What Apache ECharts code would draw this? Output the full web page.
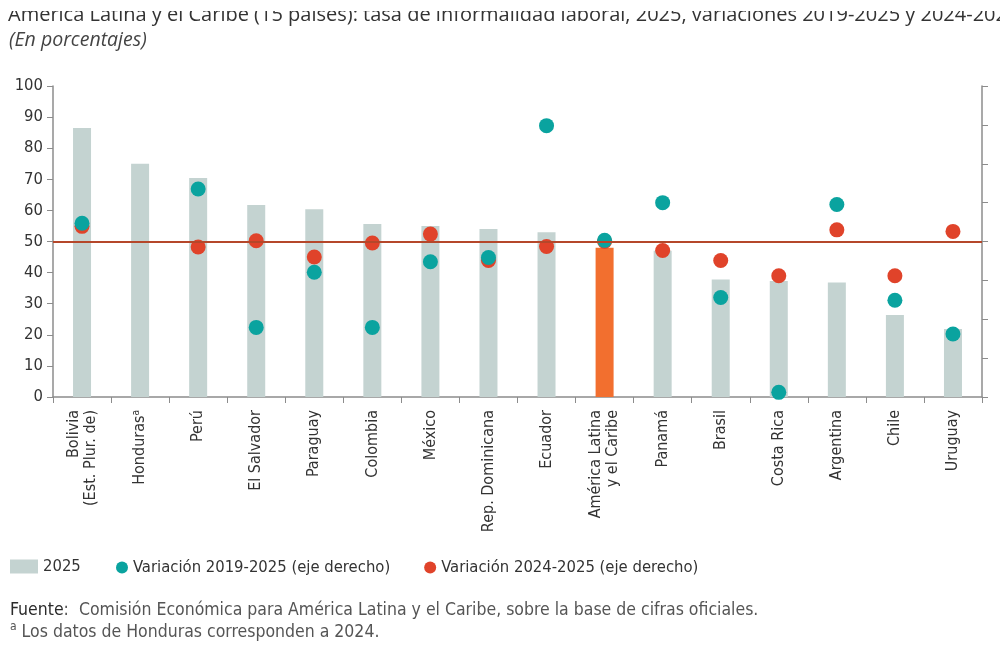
<!DOCTYPE html>
<html>
<head>
<meta charset="utf-8">
<script src="https://cdn.jsdelivr.net/npm/echarts@6/dist/echarts.min.js"></script>
<style>
html, body { margin: 0; padding: 0; background: #fff; }
#chart { width: 1000px; height: 653px; }
</style>
</head>
<body>
<div id="chart"></div>
<script>
// datos
var paises = ['Bolivia\n(Est. Plur. de)', 'Honduras', 'Perú', 'El Salvador', 'Paraguay', 'Colombia', 'México',
    'Rep. Dominicana', 'Ecuador', 'América Latina\ny el Caribe', 'Panamá', 'Brasil', 'Costa Rica', 'Argentina', 'Chile', 'Uruguay'];
var tasa2025 = [86.5, 75.0, 70.4, 61.7, 60.4, 55.6, 55.0, 54.0, 53.0, 48.0, 47.0, 37.8, 37.3, 36.8, 26.4, 21.9];
var var2019_2025 = [0.47, null, 1.35, -2.21, -0.79, -2.21, -0.52, -0.41, 2.98, 0.03, 1.0, -1.44, -3.88, 0.95, -1.51, -2.38];
var var2024_2025 = [0.39, null, -0.14, 0.02, -0.40, -0.04, 0.19, -0.49, -0.13, 0.0, -0.23, -0.49, -0.88, 0.30, -0.88, 0.26];
var ticksIzq = [0, 10, 20, 30, 40, 50, 60, 70, 80, 90, 100];

var fuente = "'Liberation Sans Narrow', 'DejaVu Sans Condensed', 'Roboto Condensed', sans-serif";
var gris = '#c4d3d1';
var naranja = '#f26f2f';
var teal = '#0aa39f';
var rojo = '#e0432a';
var ejeColor = '#8c8c8c';

var myChart = echarts.init(document.getElementById('chart'), null, { renderer: 'canvas' });

var barras = tasa2025.map(function (v, i) {
    if (paises[i].indexOf('América Latina') === 0) {
        return { value: v, itemStyle: { color: naranja } };
    }
    return v;
});

var option = {
    backgroundColor: '#fff',
    animation: false,
    textStyle: { fontFamily: fuente },
    graphic: [
        {
            type: 'text', left: 8, top: 5,
            style: {
                text: 'América Latina y el Caribe (15 países): tasa de informalidad laboral, 2025, variaciones 2019-2025 y 2024-2025',
                font: '20px "Open Sans", sans-serif', fill: '#333'
            }
        },
        // el titulo esta recortado arriba en la imagen
        { type: 'rect', shape: { x: 0, y: 0, width: 1000, height: 11 }, style: { fill: '#fff' }, z: 100 },
        {
            type: 'text', left: 9, top: 30,
            style: { text: '(En porcentajes)', font: 'italic 19.5px "Open Sans", sans-serif', fill: '#444' }
        },
        {
            type: 'text', left: 10, top: 599,
            style: {
                text: '{b|Fuente}:  Comisión Económica para América Latina y el Caribe, sobre la base de cifras oficiales.\n{s|a} Los datos de Honduras corresponden a 2024.',
                fontFamily: fuente, fontSize: 17.5, fill: '#555', lineHeight: 22,
                rich: {
                    b: { fontFamily: fuente, fontSize: 17.5, fill: '#2b2b2b' },
                    s: { fontFamily: fuente, fontSize: 12, fill: '#555', verticalAlign: 'top', lineHeight: 22 }
                }
            }
        }
    ],
    legend: [
        {
            data: ['2025'], left: 5, top: 553, itemWidth: 28, itemHeight: 14,
            icon: 'rect',
            textStyle: { fontFamily: fuente, fontSize: 16.5, color: '#333' }
        },
        {
            data: ['Variación 2019-2025 (eje derecho)', 'Variación 2024-2025 (eje derecho)'],
            left: 111, top: 554, itemWidth: 12, itemHeight: 12, itemGap: 34, icon: 'circle',
            textStyle: { fontFamily: fuente, fontSize: 16.5, color: '#333' }
        }
    ],
    grid: { left: 53, right: 18, top: 86, bottom: 256, containLabel: false },
    xAxis: {
        type: 'category',
        data: paises,
        boundaryGap: true,
        axisLine: { lineStyle: { color: ejeColor, width: 1.5 } },
        axisTick: { show: true, length: 6, interval: 0, lineStyle: { color: ejeColor } },
        axisLabel: {
            interval: 0, rotate: 90, margin: 13, fontSize: 16, color: '#333', lineHeight: 17,
            formatter: function (v) {
                if (v === 'Honduras') return '{n|Honduras}{s|a}';
                return v;
            },
            rich: {
                n: { fontSize: 16, color: '#333' },
                s: { fontSize: 10, color: '#333', verticalAlign: 'top' }
            }
        }
    },
    yAxis: [
        {
            type: 'value', min: 0, max: 100, interval: 10,
            axisLine: { show: true, lineStyle: { color: ejeColor, width: 1.5 } },
            axisTick: { show: true, length: 6, lineStyle: { color: ejeColor } },
            axisLabel: { fontSize: 16.5, color: '#333', margin: 10,
                formatter: function (v) { return ticksIzq.indexOf(v) >= 0 ? String(v) : ''; } },
            splitLine: { show: false }
        },
        {
            type: 'value', min: -4, max: 4, interval: 1, position: 'right',
            axisLine: { show: true, lineStyle: { color: ejeColor, width: 1.5 } },
            axisTick: { show: true, length: 6, lineStyle: { color: ejeColor } },
            axisLabel: { show: false },
            splitLine: { show: false }
        }
    ],
    series: [
        {
            name: '2025', type: 'bar', data: barras, barWidth: 18,
            itemStyle: { color: gris },
            markLine: {
                silent: true, symbol: 'none', label: { show: false },
                lineStyle: { color: '#b5472a', width: 2, type: 'solid' },
                data: [{ yAxis: 50 }]
            }
        },
        {
            name: 'Variación 2024-2025 (eje derecho)', type: 'scatter', yAxisIndex: 1,
            data: var2024_2025, symbolSize: 15, itemStyle: { color: rojo, opacity: 1 }, z: 3
        },
        {
            name: 'Variación 2019-2025 (eje derecho)', type: 'scatter', yAxisIndex: 1,
            data: var2019_2025, symbolSize: 15, itemStyle: { color: teal, opacity: 1 }, z: 4
        }
    ]
};

myChart.setOption(option);
</script>
</body>
</html>
